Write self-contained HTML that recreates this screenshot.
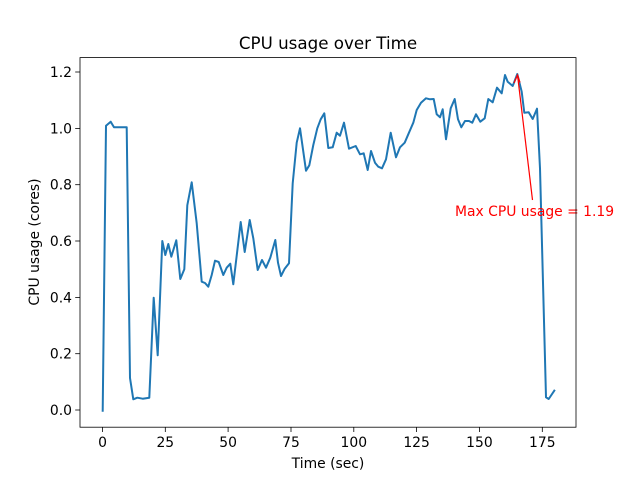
<!DOCTYPE html>
<html><head><meta charset="utf-8"><style>body{margin:0;background:#fff}svg{display:block}text{font-family:"DejaVu Sans","Liberation Sans",sans-serif}</style></head><body>
<svg width="640" height="480" viewBox="0 0 640 480" xmlns="http://www.w3.org/2000/svg">
<rect width="640" height="480" fill="#fff"/>
<polyline fill="none" stroke="#1f77b4" stroke-width="2" stroke-linejoin="round" stroke-linecap="square" points="102.7,410.7 106,125.7 110.7,121.7 114,127.3 126.7,127.3 130,378 133.3,399.3 137.3,397.7 142.7,398.7 149.3,397.7 153.7,297.7 157.7,355.3 162.3,241 165.3,255 168.3,244 171.3,256.7 176.3,240.3 180.3,279 184.3,269.3 187.3,205.3 191.7,182.3 196.7,223.3 201.7,281.7 205,283 208.3,286.7 211.7,275 215,260.7 218.7,262 223.3,275 226.7,267.7 230.3,263.7 233.3,284.3 240.7,222 244.7,252 249.7,220 253.3,238.3 257.7,270 262,260 266,267.7 270.3,257.7 275.3,240 278,262.7 281,276 284.7,268.7 289,263.3 292.7,183.3 296.7,142.7 300,128.3 306,170.7 309.3,165.3 313.3,145 317.3,128.3 320.7,119.3 324.3,113.3 328.3,148 332.7,147.3 336.7,132.7 340,135.7 344,122.7 349,148.7 355.7,146 360,154.3 363.7,153.3 367.7,170 371,151 375,162.7 378.3,166.7 382,168.3 386,159.3 390.7,132.7 396,157.3 400,147.3 404.7,142.7 408.7,133.3 413.3,122.7 416.7,110 421,102.7 426,98.3 430,99.3 433.7,99 436.7,114.3 440,117.3 442.7,109.3 446,139.3 450.7,108.3 454.7,99 458,119.3 461.3,127.3 465,121 469,121 472.3,122.7 476,114.3 480.3,121.7 484.7,118.3 488.3,99 492.7,102.3 497,87.7 501.7,93.3 505,75 507.7,81.7 512.7,86 517.3,74 521.7,91.7 524.3,112.7 528.7,112.3 532.7,119 537,108.7 540,168.3 546,397.3 548.7,399 554.3,390.7"/>
<line x1="532.5" y1="200" x2="517.5" y2="75" stroke="red" stroke-width="1.2"/>
<polyline points="514,83 517.5,75 520,82.5" fill="none" stroke="red" stroke-width="1.2"/>
<text x="455" y="216" font-size="13.9" fill="red">Max CPU usage = 1.19</text>
<rect x="80" y="57.6" width="496" height="369.6" fill="none" stroke="#000" stroke-width="0.8"/>
<g stroke="#000" stroke-width="0.8">
<line x1="102.5" y1="427.2" x2="102.5" y2="432"/><line x1="165.3" y1="427.2" x2="165.3" y2="432"/><line x1="228.1" y1="427.2" x2="228.1" y2="432"/><line x1="291" y1="427.2" x2="291" y2="432"/><line x1="353.8" y1="427.2" x2="353.8" y2="432"/><line x1="416.6" y1="427.2" x2="416.6" y2="432"/><line x1="479.4" y1="427.2" x2="479.4" y2="432"/><line x1="542.3" y1="427.2" x2="542.3" y2="432"/>
<line x1="75.2" y1="410" x2="80" y2="410"/><line x1="75.2" y1="353.7" x2="80" y2="353.7"/><line x1="75.2" y1="297.4" x2="80" y2="297.4"/><line x1="75.2" y1="241" x2="80" y2="241"/><line x1="75.2" y1="184.7" x2="80" y2="184.7"/><line x1="75.2" y1="128.4" x2="80" y2="128.4"/><line x1="75.2" y1="72" x2="80" y2="72"/>
</g>
<g font-size="13.9" text-anchor="middle" fill="#000">
<text x="102.5" y="447">0</text><text x="165.3" y="447">25</text><text x="228.1" y="447">50</text><text x="291" y="447">75</text><text x="353.8" y="447">100</text><text x="416.6" y="447">125</text><text x="479.4" y="447">150</text><text x="542.3" y="447">175</text>
</g>
<g font-size="13.9" text-anchor="end" fill="#000">
<text x="72" y="415">0.0</text><text x="72" y="358.7">0.2</text><text x="72" y="302.4">0.4</text><text x="72" y="246">0.6</text><text x="72" y="189.7">0.8</text><text x="72" y="133.4">1.0</text><text x="72" y="77">1.2</text>
</g>
<text x="328" y="468" font-size="13.9" text-anchor="middle">Time (sec)</text>
<text x="39" y="242" font-size="13.9" text-anchor="middle" transform="rotate(-90 39 242)">CPU usage (cores)</text>
<text x="328" y="49" font-size="16.7" text-anchor="middle">CPU usage over Time</text>
</svg>
</body></html>
